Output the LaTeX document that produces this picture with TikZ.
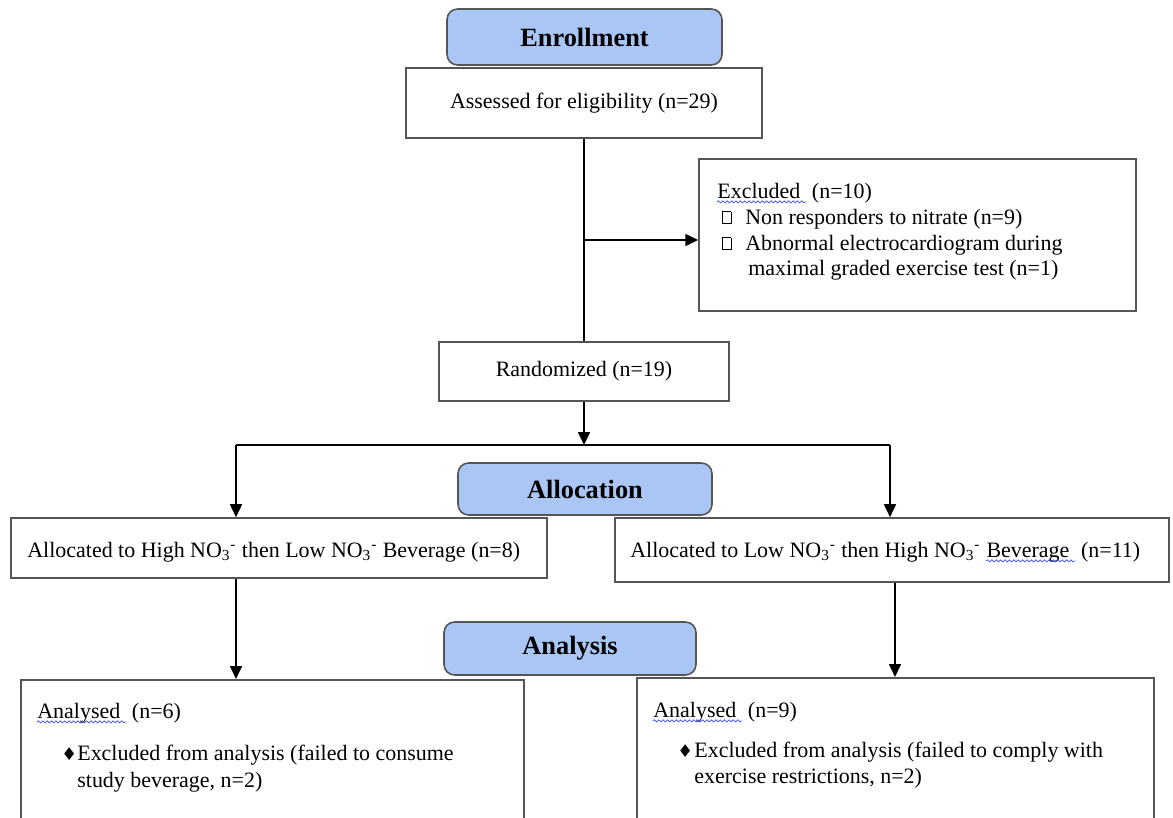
\documentclass[tikz,border=0pt]{standalone}
\usepackage{fontspec}
\setmainfont{Liberation Serif}
\newfontfamily\symfont{DejaVu Sans}
\usetikzlibrary{arrows.meta,positioning,calc,decorations.pathmorphing}

\definecolor{headblue}{RGB}{170,198,245}
\definecolor{boxgray}{RGB}{85,85,85}
\definecolor{spellblue}{RGB}{60,80,230}

\newcommand{\nitrate}{NO\textsubscript{3}\textsuperscript{-}}
\newcommand{\emptybullet}{\raisebox{0.3pt}{\setlength{\fboxsep}{0pt}\setlength{\fboxrule}{0.5pt}\fbox{\rule{0pt}{6.5pt}\hspace{4.5pt}}}}
\newcommand{\diamondbullet}{{\symfont\fontsize{10}{11}\selectfont ♦}}

\tikzset{
  stagebox/.style={draw=boxgray, fill=headblue, rounded corners=6pt, line width=0.9pt,
    font=\fontsize{15}{18}\selectfont\bfseries, inner sep=0pt},
  flowbox/.style={draw=boxgray, fill=white, line width=0.9pt, inner sep=0pt},
  flowline/.style={black, line width=0.9pt},
  flowarrow/.style={flowline, -{Triangle[width=2.4mm,length=2.6mm]}},
  txt/.style={inner sep=0pt, anchor=base west},
  spellwave/.style={draw=spellblue, line width=0.4pt, decorate,
    decoration={snake, amplitude=0.6pt, segment length=2.5pt}},
}

\begin{document}
\begin{tikzpicture}[x=0.02cm, y=-0.02cm,
  every node/.append style={font=\fontsize{12.5}{15}\selectfont}]
\useasboundingbox (0,0) rectangle (1173,818);
\clip (0,0) rectangle (1173,818);

% Enrollment
\node[flowbox, minimum width=7.12cm, minimum height=1.4cm] (assessed) at (584,103) {Assessed for eligibility (n=29)};
\node[stagebox, minimum width=5.5cm, minimum height=1.12cm] (enroll) at (584.5,37) {Enrollment};

% Excluded
\node[flowbox, minimum width=8.74cm, minimum height=3.04cm] (excluded) at (917.5,235) {};
\node[txt] (exclWord) at (717,198) {Excluded\ \mbox{}};
\node[txt] (exclCount) at (exclWord.base east) {\ (n=10)};
\node[txt] (exclNonresp) at (717,224) {\makebox[0.56cm][l]{\hspace{2.5pt}\emptybullet}Non responders to nitrate (n=9)};
\node[txt] (exclAbnormal) at (717,250) {\makebox[0.56cm][l]{\hspace{2.5pt}\emptybullet}Abnormal electrocardiogram during};
\node[txt] (exclMaximal) at (748,275) {maximal graded exercise test (n=1)};

% Randomized
\node[flowbox, minimum width=5.8cm, minimum height=1.18cm] (random) at (584,371.5) {Randomized (n=19)};

% Allocation
\node[stagebox, minimum width=5.08cm, minimum height=1.04cm] (alloc) at (585,489) {Allocation};
\node[flowbox, minimum width=10.72cm, minimum height=1.2cm] (allocHigh) at (279,548) {};
\node[flowbox, minimum width=11.08cm, minimum height=1.28cm] (allocLow) at (892,550) {};
\node[txt] (highText) at (27,557) {Allocated to High \nitrate{} then Low \nitrate{} Beverage (n=8)};
\node[txt] (lowText) at (630,557) {Allocated to Low \nitrate{} then High \nitrate\ \mbox{}};
\node[txt] (lowWord) at (lowText.base east) {Beverage\ \mbox{}};
\node[txt] (lowCount) at (lowWord.base east) {\ (n=11)};

% Analysis
\node[stagebox, minimum width=5.04cm, minimum height=1.06cm] (analysis) at (570,648.5) {Analysis};
\node[flowbox, minimum width=10.06cm, minimum height=4cm, anchor=north] (anaHigh) at (272.5,679) {};
\node[flowbox, minimum width=10.34cm, minimum height=4cm, anchor=north] (anaLow) at (895.5,677) {};
\node[txt] (anaHighWord) at (37,718) {Analysed\ \mbox{}};
\node[txt] (anaHighCount) at (anaHighWord.base east) {\ (n=6)};
\node[txt] (anaHighItem) at (61,760) {\makebox[0.32cm][l]{\diamondbullet}Excluded from analysis (failed to consume};
\node[txt] (anaHighItemB) at (77,787) {study beverage, n=2)};
\node[txt] (anaLowWord) at (653,717) {Analysed\ \mbox{}};
\node[txt] (anaLowCount) at (anaLowWord.base east) {\ (n=9)};
\node[txt] (anaLowItem) at (677,757) {\makebox[0.34cm][l]{\diamondbullet}Excluded from analysis (failed to comply with};
\node[txt] (anaLowItemB) at (694,783) {exercise restrictions, n=2)};

% spell-check squiggles
\foreach \w in {exclWord, lowWord, anaHighWord, anaLowWord}
  \draw[spellwave] ([yshift=-2.2pt]\w.base west) -- ([yshift=-2.2pt]\w.base east);

% connectors
\draw[flowline] (assessed.south) -- (random.north);
\coordinate (exclTap) at (584,240);
\draw[flowarrow] (exclTap) -- (exclTap -| excluded.west);
\coordinate (split) at (584,445);
\draw[flowarrow] (random.south) -- (split);
\coordinate (splitL) at (236,445);
\coordinate (splitR) at (890,445);
\draw[flowline] (splitL) -- (splitR);
\draw[flowarrow] (splitL) -- (splitL |- allocHigh.north);
\draw[flowarrow] (splitR) -- (splitR |- allocLow.north);
\draw[flowarrow] (splitL |- allocHigh.south) -- (splitL |- anaHigh.north);
\coordinate (dropR) at (895,600);
\draw[flowarrow] (dropR |- allocLow.south) -- (dropR |- anaLow.north);

\end{tikzpicture}
\end{document}
